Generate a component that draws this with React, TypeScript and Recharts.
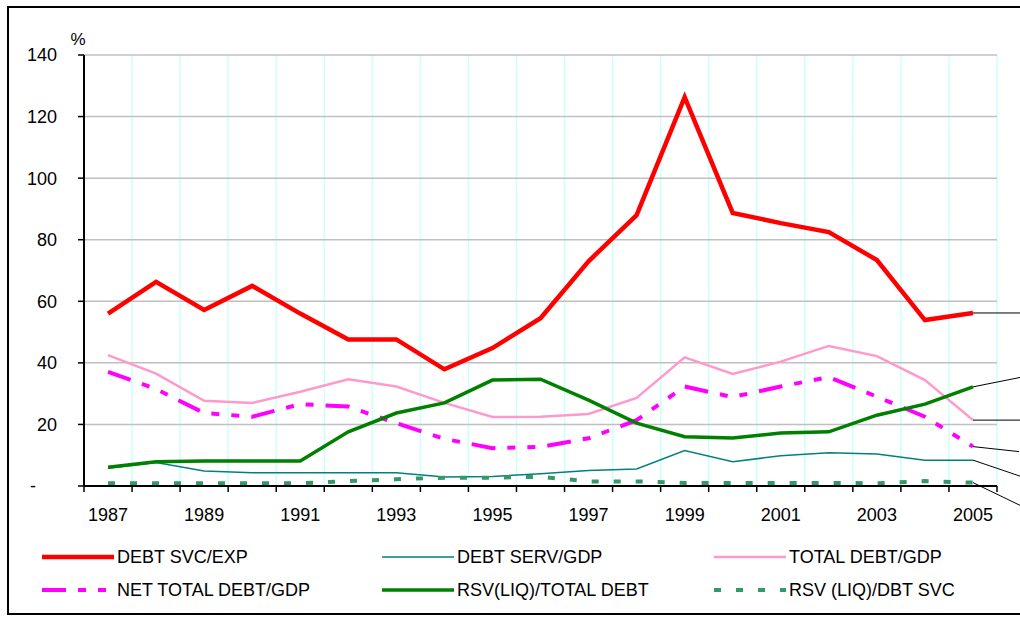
import React from 'react';
import { LineChart, Line, XAxis, YAxis, CartesianGrid, Legend, Label } from 'recharts';

const years = [1987, 1988, 1989, 1990, 1991, 1992, 1993, 1994, 1995, 1996, 1997, 1998, 1999, 2000, 2001, 2002, 2003, 2004, 2005];
const debtSvcExp = [56, 66.3, 57.2, 65, 56, 47.6, 47.6, 37.9, 44.8, 54.5, 73, 88, 126.3, 88.7, 85.4, 82.5, 73.4, 53.9, 56.2];
const debtServGdp = [5.8, 7.6, 4.9, 4.3, 4.3, 4.3, 4.3, 2.9, 3.1, 4.0, 5.0, 5.5, 11.5, 7.9, 9.8, 10.8, 10.4, 8.4, 8.4];
const totalDebtGdp = [42.5, 36.5, 27.7, 27, 30.6, 34.7, 32.3, 27, 22.4, 22.5, 23.4, 28.6, 41.8, 36.4, 40.4, 45.5, 42.2, 34.4, 21.4];
const netTotalDebtGdp = [37.1, 31.5, 23.7, 22.5, 26.6, 25.8, 20.4, 15.3, 12.3, 12.7, 15.5, 21.4, 32.3, 28.9, 32.3, 35.4, 29, 22.5, 12.8];
const rsvTotalDebt = [6.1, 7.9, 8.1, 8.1, 8.1, 17.6, 23.7, 27, 34.4, 34.7, 27.9, 20.4, 16, 15.6, 17.2, 17.6, 23, 26.6, 32.2];
const rsvDbtSvc = [0.9, 0.9, 0.9, 0.9, 0.9, 1.6, 2.2, 2.7, 2.7, 3.0, 1.5, 1.5, 1.0, 1.0, 1.0, 1.0, 0.9, 1.6, 1.1];
const yTicks = [0, 20, 40, 60, 80, 100, 120, 140];

const data = years.map((year, i) => ({
  year,
  debtSvcExp: debtSvcExp[i],
  debtServGdp: debtServGdp[i],
  totalDebtGdp: totalDebtGdp[i],
  netTotalDebtGdp: netTotalDebtGdp[i],
  rsvTotalDebt: rsvTotalDebt[i],
  rsvDbtSvc: rsvDbtSvc[i],
}));

// category boundaries, so grid lines and tick marks fall between years
const xBounds = [...years.map(y => y - 0.5), years[years.length - 1] + 0.5];

const FONT = '"Liberation Sans", Arial, sans-serif';
const PLOT_LEFT = 84;
const PLOT_RIGHT = 997;
const HALF_BAND = (PLOT_RIGHT - PLOT_LEFT) / years.length / 2;

const series = [
  { key: 'debtSvcExp', name: 'DEBT SVC/EXP', color: '#ff0000', width: 4.5, dash: undefined, leader: [50, 0] },
  { key: 'debtServGdp', name: 'DEBT SERV/GDP', color: '#008080', width: 1.5, dash: undefined, leader: [50, 17] },
  { key: 'totalDebtGdp', name: 'TOTAL DEBT/GDP', color: '#ff99cc', width: 2.5, dash: undefined, leader: [50, 0] },
  { key: 'netTotalDebtGdp', name: 'NET TOTAL DEBT/GDP', color: '#ff00ff', width: 4, dash: '24 12 8 12 8 12', leader: [46, 5] },
  { key: 'rsvTotalDebt', name: 'RSV(LIQ)/TOTAL DEBT', color: '#008000', width: 3.5, dash: undefined, leader: [50, -10] },
  { key: 'rsvDbtSvc', name: 'RSV (LIQ)/DBT SVC', color: '#339966', width: 4, dash: '7 15', leader: [58, 28] },
];

const legendCols = [42, 382, 714];
const legendRows = [27, 60];

function XTick(props: any) {
  const { x, y, payload } = props;
  const year = payload.value + 0.5;
  if (year > years[years.length - 1] || year % 2 === 0) return <g />;
  return (
    <text x={x + HALF_BAND} y={y} dy="0.71em" textAnchor="middle" fontSize={18} fontFamily={FONT} fill="#000">
      {year}
    </text>
  );
}

function YTick(props: any) {
  const { x, y, payload } = props;
  const v = payload.value;
  return (
    <text x={v === 0 ? x - 21 : x} y={y} dy="0.36em" textAnchor="end" fontSize={18} fontFamily={FONT} fill="#000">
      {v === 0 ? '-' : v}
    </text>
  );
}

function leaderDot(leader: number[], color: string) {
  return (props: any) => {
    const { cx, cy, index } = props;
    if (index !== years.length - 1) return <g key={`d${index}`} />;
    return <line key={`d${index}`} x1={cx} y1={cy} x2={cx + leader[0]} y2={cy + leader[1]} stroke="#000" strokeWidth={1} />;
  };
}

function ChartLegend() {
  return (
    <svg width={1020} height={80} style={{ display: 'block' }}>
      {series.map((s, i) => {
        const x = legendCols[i % 3];
        const y = legendRows[Math.floor(i / 3)];
        return (
          <g key={s.key}>
            <line x1={x} y1={y} x2={x + 72} y2={y} stroke={s.color} strokeWidth={s.width} strokeDasharray={s.dash} />
            <text x={x + 75} y={y} dy="0.36em" fontSize={18} fontFamily={FONT} fill="#000">
              {s.name}
            </text>
          </g>
        );
      })}
    </svg>
  );
}

export default function App() {
  return (
    <div style={{ position: 'absolute', left: 0, top: 0, width: 1020, height: 617, background: '#fff' }}>
      <div
        style={{
          position: 'absolute',
          left: 7,
          top: 6,
          width: 1011,
          height: 605,
          borderTop: '2px solid #000',
          borderLeft: '2px solid #000',
          borderBottom: '2px solid #000',
        }}
      />
      <div style={{ position: 'absolute', left: 0, top: 0 }}>
        <LineChart width={1020} height={617} data={data} margin={{ top: 55, right: 1020 - PLOT_RIGHT, left: PLOT_LEFT - 60, bottom: 101 }}>
          <CartesianGrid horizontal={false} stroke="#ccffff" strokeWidth={1.5} />
          <CartesianGrid vertical={false} stroke="#c0c0c0" strokeWidth={1.5} />
          <XAxis
            dataKey="year"
            type="number"
            domain={[xBounds[0], xBounds[xBounds.length - 1]]}
            ticks={xBounds}
            interval={0}
            height={30}
            tickSize={6}
            tickMargin={16}
            axisLine={{ stroke: '#000', strokeWidth: 2 }}
            tickLine={{ stroke: '#000', strokeWidth: 1.5 }}
            tick={<XTick />}
          />
          <YAxis
            domain={[0, 140]}
            ticks={yTicks}
            interval={0}
            width={60}
            tickSize={6}
            tickMargin={21}
            axisLine={{ stroke: '#000', strokeWidth: 2 }}
            tickLine={{ stroke: '#000', strokeWidth: 1.5 }}
            tick={<YTick />}
          >
            <Label
              content={(p: any) => (
                <text x={p.viewBox.x + p.viewBox.width - 6} y={p.viewBox.y - 10} textAnchor="middle" fontSize={17} fontFamily={FONT} fill="#000">
                  %
                </text>
              )}
            />
          </YAxis>
          {series.map(s => (
            <Line
              key={s.key}
              type="linear"
              dataKey={s.key}
              name={s.name}
              stroke={s.color}
              strokeWidth={s.width}
              strokeDasharray={s.dash}
              dot={leaderDot(s.leader, s.color)}
              activeDot={false}
              isAnimationActive={false}
            />
          ))}
          <Legend
            layout="horizontal"
            verticalAlign="middle"
            align="center"
            wrapperStyle={{ top: 530, left: 0, width: 1020 }}
            content={() => <ChartLegend />}
          />
        </LineChart>
      </div>
    </div>
  );
}
